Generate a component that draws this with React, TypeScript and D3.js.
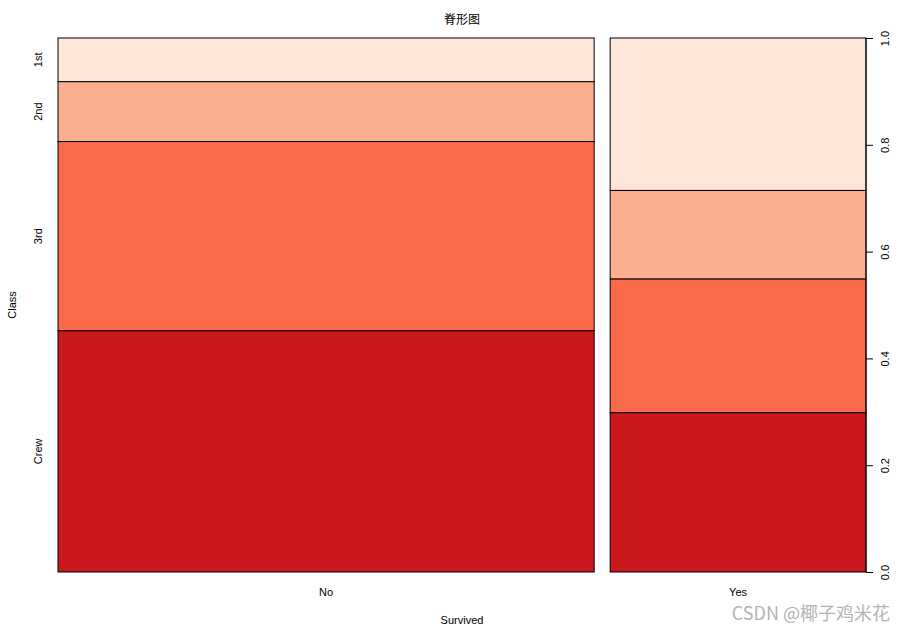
import React, { useEffect, useRef } from "react";
import * as d3 from "d3";

// Titanic: survived x class counts
const survived = ["No", "Yes"];
const classes = ["1st", "2nd", "3rd", "Crew"];
const noCounts = [122, 167, 528, 673];
const yesCounts = [203, 118, 178, 212];
const colors = ["#FEE5D9", "#FCAE91", "#FB6A4A", "#CB181D"];
const yTicks = [0, 0.2, 0.4, 0.6, 0.8, 1.0];

const W = 905;
const H = 630;

export default function App() {
  const ref = useRef<SVGSVGElement>(null);

  useEffect(() => {
    const svg = d3.select(ref.current);
    svg.selectAll("*").remove();

    const left = 58, right = 866, top = 38, bottom = 572, gap = 16;
    const font = "'Liberation Sans', Arial, sans-serif";

    const counts = [noCounts, yesCounts];
    const totals = counts.map((c) => d3.sum(c));
    const grand = d3.sum(totals);

    // x widths proportional to group totals
    const avail = right - left - gap * (survived.length - 1);
    const x = d3.scaleLinear().domain([0, grand]).range([0, avail]);
    const y = d3.scaleLinear().domain([0, 1]).range([bottom, top]);

    let xPos = left;
    const groups = counts.map((c, gi) => {
      const w = x(totals[gi]);
      const g = { x0: xPos, w, c, total: totals[gi] };
      xPos += w + gap;
      return g;
    });

    // stacked from top (1st) down to bottom (Crew)
    groups.forEach((g) => {
      let cum = 0;
      g.c.forEach((v, i) => {
        const p0 = cum / g.total;
        cum += v;
        const p1 = cum / g.total;
        svg.append("rect")
          .attr("x", g.x0)
          .attr("y", y(1 - p0))
          .attr("width", g.w)
          .attr("height", y(1 - p1) - y(1 - p0))
          .attr("fill", colors[i])
          .attr("stroke", "#000")
          .attr("stroke-width", 1);
      });
    });

    // left class labels, centered on first group's segments
    const first = groups[0];
    let cum = 0;
    classes.forEach((name, i) => {
      const p0 = cum / first.total;
      cum += first.c[i];
      const p1 = cum / first.total;
      const cy = (y(1 - p0) + y(1 - p1)) / 2;
      svg.append("text")
        .attr("transform", `translate(42,${cy}) rotate(-90)`)
        .attr("text-anchor", "middle")
        .attr("font-family", font)
        .attr("font-size", 11)
        .text(name);
    });

    // right axis
    const axis = svg.append("g")
      .attr("transform", `translate(${right},0)`)
      .call(d3.axisRight(y).tickValues(yTicks).tickFormat(d3.format(".1f")).tickSize(7).tickPadding(0));
    axis.select(".domain").attr("stroke", "#000").attr("d", `M0,${y(0)}V${y(1)}`);
    axis.selectAll(".tick line").attr("stroke", "#000");
    axis.selectAll(".tick text")
      .attr("font-family", font)
      .attr("font-size", 11)
      .attr("fill", "#000")
      .attr("x", 0)
      .attr("dy", 0)
      .attr("text-anchor", "middle")
      .attr("transform", "translate(23,0) rotate(-90)");

    // bottom group labels
    groups.forEach((g, gi) => {
      svg.append("text")
        .attr("x", g.x0 + g.w / 2)
        .attr("y", 596)
        .attr("text-anchor", "middle")
        .attr("font-family", font)
        .attr("font-size", 11)
        .text(survived[gi]);
    });

    svg.append("text")
      .attr("x", (left + right) / 2)
      .attr("y", 624)
      .attr("text-anchor", "middle")
      .attr("font-family", font)
      .attr("font-size", 11)
      .text("Survived");

    svg.append("text")
      .attr("transform", `translate(16,${(top + bottom) / 2}) rotate(-90)`)
      .attr("text-anchor", "middle")
      .attr("font-family", font)
      .attr("font-size", 11)
      .text("Class");

    svg.append("text")
      .attr("x", (left + right) / 2)
      .attr("y", 24)
      .attr("text-anchor", "middle")
      .attr("font-family", "'Noto Sans CJK SC', sans-serif")
      .attr("font-size", 12)
      .text("脊形图");

    // watermark
    svg.append("text")
      .attr("x", 890)
      .attr("y", 620)
      .attr("text-anchor", "end")
      .attr("font-family", "'Noto Sans CJK SC', 'Noto Sans', sans-serif")
      .attr("font-size", 18)
      .attr("fill", "#b4b4b4")
      .text("CSDN @椰子鸡米花");
  }, []);

  return (
    <svg ref={ref} width={W} height={H}
      style={{ position: "absolute", left: 0, top: 0, background: "#fff" }} />
  );
}
